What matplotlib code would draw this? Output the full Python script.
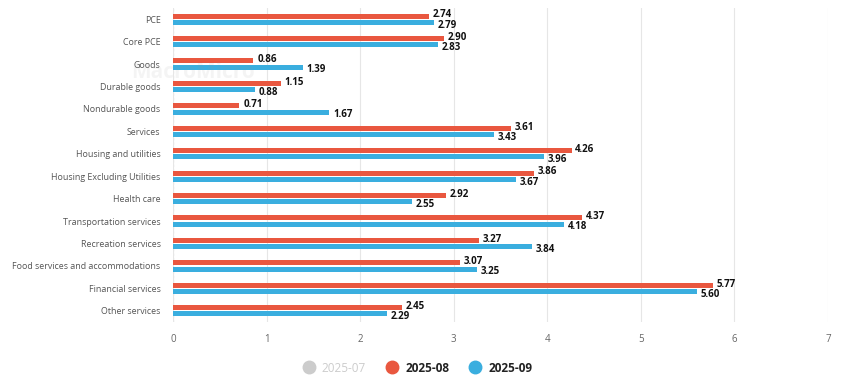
import matplotlib
matplotlib.use("Agg")
import matplotlib.pyplot as plt
from matplotlib.lines import Line2D
import numpy as np

categories = ["PCE", "Core PCE", "Goods", "Durable goods", "Nondurable goods", "Services",
              "Housing and utilities", "Housing Excluding Utilities", "Health care",
              "Transportation services", "Recreation services",
              "Food services and accommodations", "Financial services", "Other services"]
s_aug = [2.74, 2.90, 0.86, 1.15, 0.71, 3.61, 4.26, 3.86, 2.92, 4.37, 3.27, 3.07, 5.77, 2.45]
s_sep = [2.79, 2.83, 1.39, 0.88, 1.67, 3.43, 3.96, 3.67, 2.55, 4.18, 3.84, 3.25, 5.60, 2.29]
series_names = ["2025-07", "2025-08", "2025-09"]
xticks = [0, 1, 2, 3, 4, 5, 6, 7]

RED = "#e9573f"
BLUE = "#3aaedf"
plt.rcParams['font.family'] = ['Open Sans', 'DejaVu Sans']

fig = plt.figure(figsize=(8.46, 3.79), dpi=100)
ax = fig.add_axes([173/846, 1-322/379, (828-173)/846, (322-8)/379])

# watermark (behind everything)
fig.text(0.155, 0.81, "MacroMicro", fontsize=15, fontweight='bold', color='#999999',
         alpha=0.10, ha='left', va='center', zorder=0)

n = len(categories)
y = np.arange(n)
h = 0.22
off = 0.14
ax.barh(y - off, s_aug, height=h, color=RED, zorder=3)
ax.barh(y + off, s_sep, height=h, color=BLUE, zorder=3)
for yi, v in zip(y, s_aug):
    ax.text(v + 0.04, yi - off - 0.05, f"{v:.2f}", fontsize=7, fontweight='bold',
            va='center', ha='left', color='#111111', zorder=4)
for yi, v in zip(y, s_sep):
    ax.text(v + 0.04, yi + off + 0.12, f"{v:.2f}", fontsize=7, fontweight='bold',
            va='center', ha='left', color='#111111', zorder=4)

ax.set_xlim(0, 7)
ax.set_ylim(n - 0.5, -0.5)
ax.set_xticks(xticks)
ax.set_xticklabels([str(t) for t in xticks], fontsize=7, color='#666666')
ax.set_yticks(y)
ax.set_yticklabels(categories, fontsize=6.4, color='#555555')
ax.tick_params(axis='both', length=0)
ax.tick_params(axis='x', pad=9)
ax.tick_params(axis='y', pad=9)
for sp in ax.spines.values():
    sp.set_visible(False)
ax.patch.set_alpha(0)
ax.grid(axis='x', color='#e6e6e6', linewidth=0.8, zorder=0)
ax.axvline(0, color='#aaaaaa', linestyle=(0, (2, 2)), linewidth=0.8, zorder=1)

handles = [Line2D([], [], marker='o', linestyle='', markersize=9, color='#cccccc'),
           Line2D([], [], marker='o', linestyle='', markersize=9, color=RED),
           Line2D([], [], marker='o', linestyle='', markersize=9, color=BLUE)]
leg = fig.legend(handles, series_names, loc='center', bbox_to_anchor=(0.49, 1-368/379),
                 ncol=3, frameon=False, fontsize=8.5, handletextpad=0.1, columnspacing=1.2)
for i, t in enumerate(leg.get_texts()):
    if i == 0:
        t.set_color('#cccccc')
    else:
        t.set_fontweight('bold')
        t.set_color('#222222')

fig.savefig("out.png", dpi=100)
